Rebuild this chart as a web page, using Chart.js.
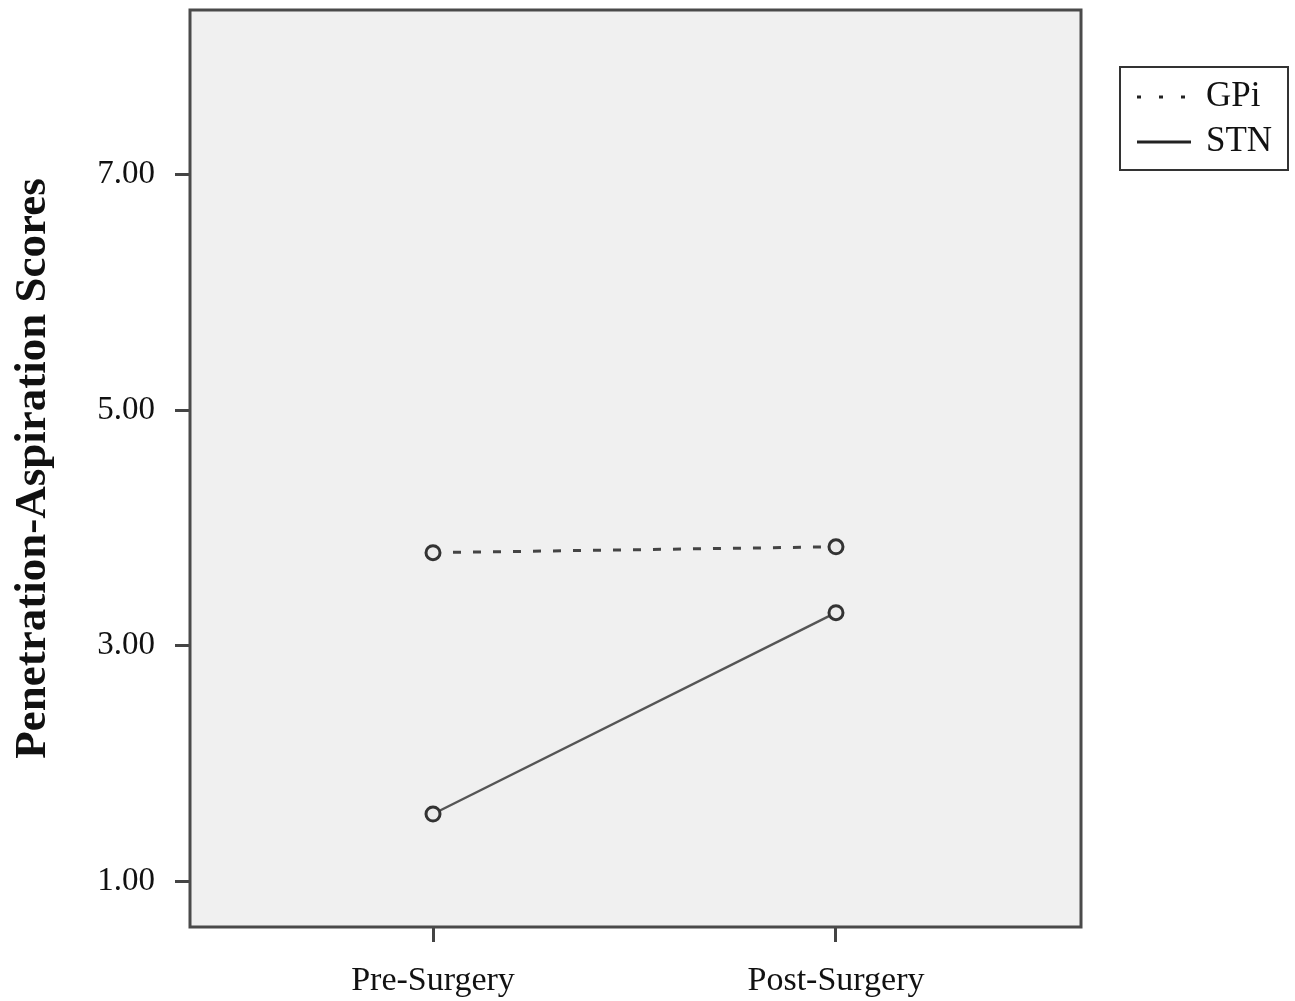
<!DOCTYPE html>
<html lang="en">
<head>
<meta charset="UTF-8">
<title>Penetration-Aspiration Scores</title>
<script src="https://cdn.jsdelivr.net/npm/chart.js"></script>
<style>
  body { margin: 0; background: #fff; }
  #wrap { width: 1295px; height: 1001px; }
</style>
</head>
<body>
<div id="wrap"><canvas id="myChart" width="1295" height="1001"></canvas></div>
<script>
// data
const timeLabels = ['Pre-Surgery', 'Post-Surgery'];
const gpiValues = [3.79, 3.84];
const stnValues = [1.57, 3.28];
const yTicks = [1, 3, 5, 7];

const serif = '"Liberation Serif", "DejaVu Serif", serif';

// plot frame + grey background
const framePlugin = {
  id: 'frame',
  beforeDraw(chart) {
    const {ctx, chartArea: a} = chart;
    ctx.save();
    ctx.fillStyle = '#f0f0f0';
    ctx.fillRect(a.left, a.top, a.right - a.left, a.bottom - a.top);
    ctx.restore();
  },
  afterDraw(chart) {
    const {ctx, chartArea: a} = chart;
    ctx.save();
    ctx.strokeStyle = '#4a4a4a';
    ctx.lineWidth = 3;
    ctx.strokeRect(a.left, a.top, a.right - a.left, a.bottom - a.top);
    ctx.restore();
  }
};

// small boxed legend on the right
const boxLegend = {
  id: 'boxLegend',
  afterDraw(chart) {
    const ctx = chart.ctx;
    ctx.save();
    ctx.strokeStyle = '#333';
    ctx.lineWidth = 2;
    ctx.strokeRect(1120, 67, 168, 103);
    ctx.font = '35px ' + serif;
    ctx.fillStyle = '#111';
    ctx.textBaseline = 'middle';
    chart.data.datasets.forEach((ds, i) => {
      const y = 97 + i * 45;
      ctx.strokeStyle = '#222';
      ctx.lineWidth = 3;
      ctx.setLineDash(ds.borderDash && ds.borderDash.length ? [4, 18] : []);
      ctx.beginPath();
      ctx.moveTo(1137, y);
      ctx.lineTo(1191, y);
      ctx.stroke();
      ctx.setLineDash([]);
      ctx.fillText(ds.label, 1206, y);
    });
    ctx.restore();
  }
};

const toPoints = vals => vals.map((v, i) => ({x: i, y: v}));

new Chart(document.getElementById('myChart').getContext('2d'), {
  type: 'line',
  data: {
    datasets: [
      {
        label: 'GPi',
        data: toPoints(gpiValues),
        borderColor: '#444',
        borderWidth: 3,
        borderDash: [8, 12],
        pointRadius: 7,
        pointBorderWidth: 3,
        pointBackgroundColor: '#ececec',
        pointBorderColor: '#333'
      },
      {
        label: 'STN',
        data: toPoints(stnValues),
        borderColor: '#555',
        borderWidth: 2.5,
        pointRadius: 7,
        pointBorderWidth: 3,
        pointBackgroundColor: '#ececec',
        pointBorderColor: '#333'
      }
    ]
  },
  options: {
    responsive: false,
    animation: false,
    layout: { padding: { top: 10, right: 214, left: 0, bottom: 0 } },
    plugins: { legend: { display: false }, tooltip: { enabled: false } },
    scales: {
      x: {
        type: 'linear',
        min: -0.603,
        max: 1.608,
        afterBuildTicks: s => { s.ticks = [{value: 0}, {value: 1}]; },
        afterFit: s => { s.height = 74; s.paddingLeft = 0; s.paddingRight = 0; },
        border: { display: false },
        grid: { drawOnChartArea: false, drawTicks: true, tickLength: 15, tickWidth: 3, color: '#444' },
        ticks: {
          callback: v => timeLabels[v],
          color: '#111',
          font: { family: serif, size: 34 },
          padding: 19,
          maxRotation: 0
        }
      },
      y: {
        min: 0.61,
        max: 8.4,
        afterBuildTicks: s => { s.ticks = yTicks.map(v => ({value: v})); },
        afterFit: s => { s.width = 190; s.paddingTop = 0; s.paddingBottom = 0; },
        border: { display: false },
        grid: { drawOnChartArea: false, drawTicks: true, tickLength: 15, tickWidth: 3, color: '#444' },
        ticks: {
          callback: v => v.toFixed(2),
          color: '#111',
          font: { family: serif, size: 33 },
          padding: 20
        },
        title: {
          display: true,
          text: 'Penetration-Aspiration Scores',
          color: '#111',
          font: { family: serif, size: 45, weight: 'bold' },
          padding: { top: 6, bottom: 0 }
        }
      }
    }
  },
  plugins: [framePlugin, boxLegend]
});
</script>
</body>
</html>
